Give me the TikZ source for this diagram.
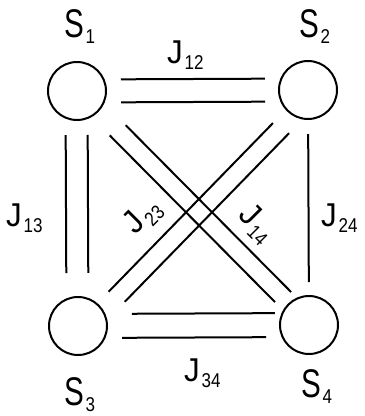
\documentclass[tikz,border=0pt]{standalone}
\usepackage{fontspec}
\setmainfont{Liberation Sans}
\newfontfamily\condf[FakeStretch=0.74]{Liberation Sans}
\newfontfamily\jfont[FakeStretch=0.95]{Liberation Sans}
\newfontfamily\subff[FakeStretch=0.85]{Liberation Sans}
\usetikzlibrary{calc}
\newcommand\bigS{\condf\fontsize{40}{40}\selectfont}
\newcommand\bigJ{\jfont\fontsize{33}{33}\selectfont}
\newcommand\subsz{\subff\fontsize{20}{20}\selectfont}
\newcommand\symS[1]{{\bigS S}\kern1.5pt\raisebox{-6pt}{\subsz #1}}
\newcommand\symJ[1]{{\bigJ J}\kern2pt\raisebox{-6pt}{\subsz #1}}
% parallel line from node #1 to node #2, shortened by #3 and #4, offset #5
\newcommand\pline[5]{\draw ($(#1.center)!#3!(#2.center)!#5!90:(#2.center)$) -- ($(#2.center)!#4!(#1.center)!#5!-90:(#1.center)$);}
\begin{document}
\begin{tikzpicture}[x=1pt,y=-1pt,line width=2pt,
  spin/.style={circle,draw,minimum size=58pt,inner sep=0pt},
  lab/.style={inner sep=0pt,anchor=base west},
  rlab/.style={inner sep=0pt}]
\useasboundingbox (0,0) rectangle (365,416);
% spins
\node[spin] (s1) at (77,91) {};
\node[spin] (s2) at (308,90) {};
\node[spin] (s3) at (78,326) {};
\node[spin] (s4) at (309,325) {};
% couplings
\pline{s1}{s2}{44pt}{43pt}{11.5pt}
\pline{s1}{s2}{44pt}{43pt}{-11.5pt}
\pline{s3}{s4}{54pt}{34pt}{12pt}
\pline{s3}{s4}{44pt}{43pt}{-12pt}
\pline{s1}{s3}{44pt}{53pt}{10.5pt}
\pline{s1}{s3}{44pt}{53pt}{-11.5pt}
\draw[shorten <=44pt,shorten >=43pt] (s2.center) -- (s4.center);
\pline{s1}{s4}{58.6pt}{36.1pt}{10.5pt}
\pline{s1}{s4}{54.5pt}{40.2pt}{-8pt}
\pline{s2}{s3}{44.1pt}{50pt}{16.6pt}
\pline{s2}{s3}{48.1pt}{45.9pt}{-2pt}
% labels
\node[lab] (l1) at (63.5,37) {\symS{1}};
\node[lab] (l2) at (298.5,37) {\symS{2}};
\node[lab] (l3) at (63.5,405) {\symS{3}};
\node[lab] (l4) at (300.5,397) {\symS{4}};
\node[lab] (j12) at (166,63) {\symJ{12}};
\node[lab] (j34) at (183,381) {\symJ{34}};
\node[lab] (j13) at (5,226) {\symJ{13}};
\node[lab] (j24) at (320,226) {\symJ{24}};
\node[rlab,rotate=45] (j23) at (143,216.5) {\symJ{23}};
\node[rlab,rotate=-45] (j14) at (256.5,224) {\symJ{14}};
\end{tikzpicture}
\end{document}
